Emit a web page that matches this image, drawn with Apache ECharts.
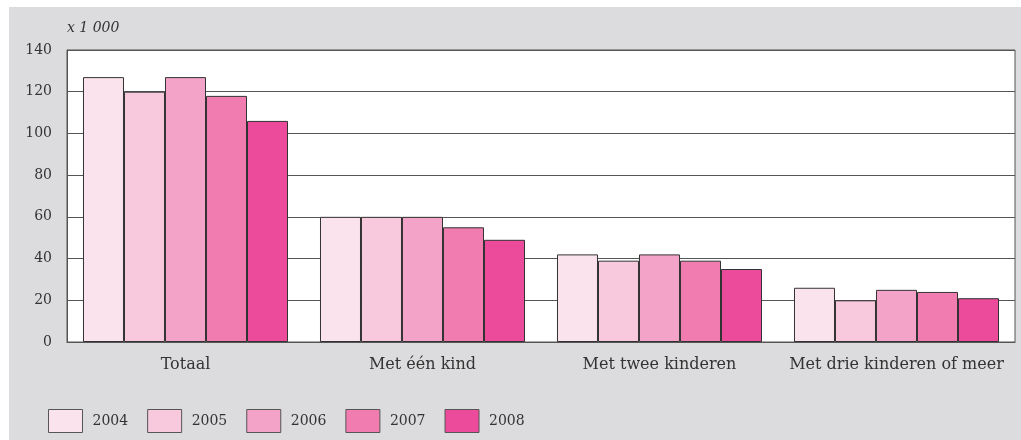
<!DOCTYPE html>
<html>
<head>
<meta charset="utf-8">
<script src="https://cdn.jsdelivr.net/npm/echarts@6/dist/echarts.min.js"></script>
<style>
  html, body { margin: 0; padding: 0; background: #fff; }
  .panel { position: absolute; left: 9px; top: 7px; width: 1012px; height: 433px; background: #dcdcde; }
  #chart { position: absolute; left: 0; top: 0; width: 1021px; height: 440px; }
</style>
</head>
<body>
<div class="panel"></div>
<div id="chart"></div>
<script>
// categorieën en jaren
var categories = ['Totaal', 'Met één kind', 'Met twee kinderen', 'Met drie kinderen of meer']
var years = ['2004', '2005', '2006', '2007', '2008']
var yearColors = ['#fbe3ee', '#f8c8dd', '#f3a3c8', '#f07cb0', '#ec4b9b']

// waarden x 1 000, per jaar
var data2004 = [127, 60, 42, 26]
var data2005 = [120, 60, 39, 20]
var data2006 = [127, 60, 42, 25]
var data2007 = [118, 55, 39, 24]
var data2008 = [106, 49, 35, 21]
var seriesData = [data2004, data2005, data2006, data2007, data2008]

var yTicks = [0, 20, 40, 60, 80, 100, 120, 140]

var chart = echarts.init(document.getElementById('chart'))
var serif = 'DejaVu Serif'

chart.setOption({
  backgroundColor: 'transparent',
  animation: false,
  textStyle: { fontFamily: serif },
  grid: {
    left: 67,
    right: 6,
    top: 50,
    bottom: 98,
    show: true,
    backgroundColor: '#fff',
    borderColor: '#555',
    borderWidth: 1
  },
  graphic: [
    {
      type: 'text',
      left: 67,
      top: 21,
      style: {
        text: 'x 1 000',
        fontFamily: serif,
        fontStyle: 'italic',
        fontSize: 14,
        fill: '#333'
      }
    }
  ],
  legend: {
    left: 48,
    top: 409,
    padding: 0,
    itemWidth: 34,
    itemHeight: 23,
    itemGap: 19,
    icon: 'rect',
    textStyle: { fontFamily: serif, fontSize: 14, color: '#333', padding: [0, 0, 0, 5] },
    itemStyle: { borderColor: '#555', borderWidth: 1 },
    data: years
  },
  xAxis: {
    type: 'category',
    data: categories,
    axisTick: { show: false },
    axisLine: { lineStyle: { color: '#555', width: 1 } },
    axisLabel: { color: '#333', fontSize: 16, margin: 15, interval: 0 }
  },
  yAxis: {
    type: 'value',
    min: yTicks[0],
    max: yTicks[yTicks.length - 1],
    interval: 20,
    axisLine: { show: true, lineStyle: { color: '#555' } },
    axisTick: { show: false },
    axisLabel: { color: '#333', fontSize: 14, margin: 15 },
    splitLine: { lineStyle: { color: '#555', width: 1 } }
  },
  series: years.map(function (y, i) {
    return {
      name: y,
      type: 'bar',
      data: seriesData[i],
      barGap: '0%',
      barCategoryGap: '13.5%',
      itemStyle: { color: yearColors[i], borderColor: '#333', borderWidth: 1 }
    }
  })
})
</script>
</body>
</html>
